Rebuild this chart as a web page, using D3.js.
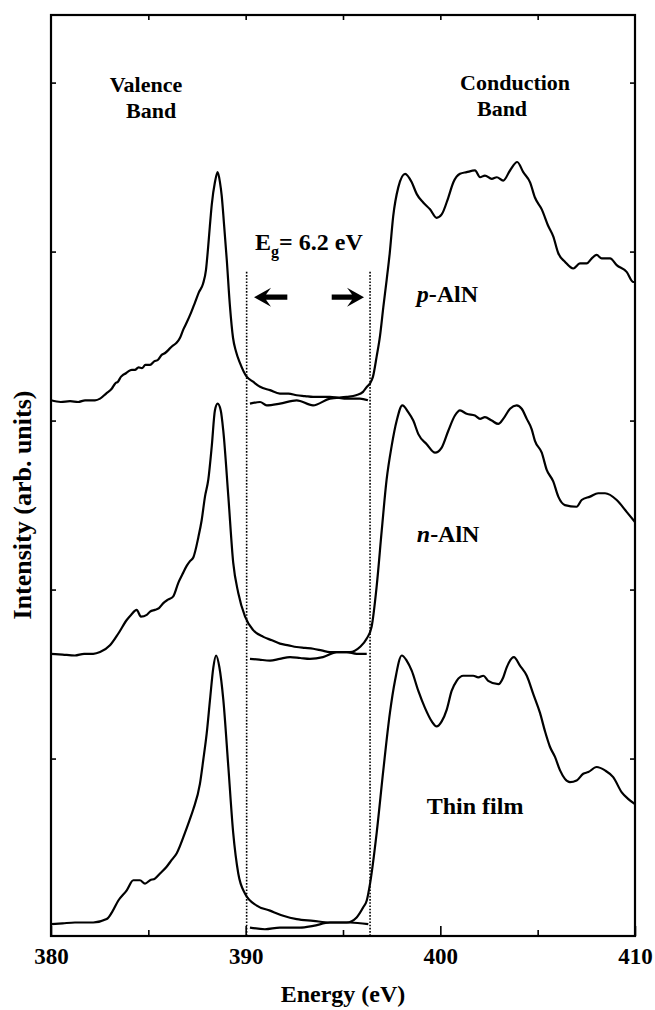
<!DOCTYPE html>
<html>
<head>
<meta charset="utf-8">
<script src="https://cdn.jsdelivr.net/npm/d3@7/dist/d3.min.js"></script>
<style>
  html, body { margin: 0; padding: 0; background: #fff; }
  svg { display: block; }
  text { font-family: "Liberation Serif", "Times New Roman", serif; font-weight: bold; fill: #000; }
</style>
</head>
<body>
<svg id="chart" width="655" height="1010"></svg>
<script>
// ---------------- data (energy in eV, intensity in arb. units) ----------------
const xTicksMajor = [380, 390, 400, 410];
const xTicksMinor = [385, 395, 405];
const yTicks = [1, 2, 3, 4, 5];

// p-AlN valence band
const pValence = [[380.00,3.12],[380.50,3.11],[380.98,3.115],[381.40,3.11],[381.75,3.12],[382.26,3.12],[382.52,3.13],[382.83,3.16],[383.13,3.19],[383.30,3.22],[383.44,3.23],[383.60,3.26],[383.70,3.27],[383.85,3.28],[383.96,3.29],[384.15,3.30],[384.31,3.30],[384.50,3.315],[384.67,3.31],[384.85,3.33],[385.09,3.33],[385.30,3.35],[385.50,3.36],[385.70,3.39],[385.86,3.40],[386.05,3.42],[386.22,3.44],[386.45,3.46],[386.63,3.49],[386.80,3.54],[386.97,3.58],[387.20,3.64],[387.40,3.70],[387.60,3.76],[387.81,3.81],[387.96,3.89],[388.06,4.01],[388.16,4.15],[388.26,4.28],[388.42,4.41],[388.56,4.47],[388.68,4.41],[388.77,4.33],[388.89,4.16],[389.03,3.95],[389.19,3.68],[389.35,3.49],[389.50,3.41],[389.71,3.34],[390.05,3.26],[390.38,3.23],[390.74,3.20],[391.25,3.18],[391.76,3.16],[392.20,3.16],[392.62,3.15],[393.05,3.145],[393.46,3.14],[393.90,3.14],[394.33,3.14],[394.75,3.135],[395.19,3.13],[395.87,3.13],[396.28,3.12]];
// p-AlN conduction band
const pConduction = [[390.22,3.10],[390.74,3.11],[391.08,3.09],[391.76,3.10],[392.62,3.12],[393.46,3.09],[394.33,3.13],[395.19,3.14],[395.67,3.15],[396.03,3.17],[396.23,3.20],[396.39,3.22],[396.54,3.26],[396.73,3.38],[396.90,3.50],[397.07,3.67],[397.24,3.83],[397.40,3.99],[397.58,4.21],[397.84,4.38],[398.19,4.46],[398.53,4.41],[398.79,4.34],[399.12,4.29],[399.47,4.25],[399.81,4.20],[400.07,4.22],[400.41,4.32],[400.67,4.41],[401.01,4.46],[401.35,4.47],[401.78,4.48],[402.04,4.44],[402.29,4.45],[402.64,4.43],[402.90,4.44],[403.23,4.42],[403.58,4.48],[403.95,4.53],[404.26,4.47],[404.61,4.41],[404.86,4.32],[405.21,4.25],[405.55,4.15],[405.80,4.09],[406.06,3.99],[406.40,3.94],[406.83,3.90],[407.17,3.93],[407.52,3.93],[407.78,3.96],[408.03,3.98],[408.29,3.96],[408.72,3.96],[409.06,3.92],[409.57,3.88],[409.91,3.82],[410.00,3.82]];

// n-AlN valence band
const nValence = [[380.00,1.62],[380.60,1.615],[381.23,1.61],[381.70,1.62],[382.17,1.62],[382.52,1.63],[383.03,1.67],[383.46,1.74],[383.89,1.82],[384.11,1.85],[384.40,1.88],[384.62,1.84],[384.92,1.85],[385.09,1.87],[385.34,1.88],[385.55,1.89],[385.77,1.92],[386.01,1.94],[386.28,1.96],[386.54,2.04],[386.75,2.09],[386.97,2.14],[387.15,2.17],[387.31,2.19],[387.57,2.31],[387.74,2.41],[387.91,2.55],[388.08,2.65],[388.26,2.85],[388.42,3.06],[388.56,3.10],[388.72,3.06],[388.85,2.94],[389.11,2.55],[389.36,2.16],[389.62,1.98],[389.97,1.84],[390.39,1.76],[390.91,1.72],[391.35,1.70],[391.76,1.68],[392.20,1.67],[392.62,1.66],[393.05,1.655],[393.47,1.65],[393.90,1.64],[394.33,1.63],[394.75,1.63],[395.19,1.63],[395.70,1.62],[396.22,1.62]];
// n-AlN conduction band
const nConduction = [[390.22,1.59],[390.70,1.585],[391.25,1.58],[391.75,1.59],[392.28,1.60],[392.80,1.595],[393.30,1.59],[393.97,1.60],[394.68,1.63],[395.36,1.63],[395.87,1.66],[396.22,1.71],[396.47,1.78],[396.73,2.02],[396.99,2.35],[397.24,2.65],[397.50,2.85],[397.76,3.00],[398.05,3.09],[398.35,3.05],[398.61,3.00],[398.87,2.92],[399.30,2.86],[399.73,2.81],[400.07,2.84],[400.41,2.94],[400.75,3.03],[401.01,3.06],[401.35,3.04],[401.78,3.03],[402.04,3.01],[402.29,3.02],[402.64,3.00],[402.98,2.98],[403.23,3.01],[403.58,3.07],[403.92,3.09],[404.18,3.07],[404.44,3.01],[404.69,2.95],[404.86,2.88],[405.21,2.81],[405.46,2.71],[405.80,2.64],[406.06,2.55],[406.40,2.50],[407.00,2.49],[407.26,2.53],[407.69,2.55],[408.11,2.57],[408.46,2.57],[409.06,2.53],[409.57,2.46],[410.00,2.40]];

// Thin film valence band
const tValence = [[380.00,0.02],[380.60,0.025],[381.23,0.03],[381.70,0.03],[382.17,0.03],[382.86,0.05],[383.13,0.09],[383.46,0.16],[383.89,0.22],[384.23,0.28],[384.57,0.28],[384.83,0.26],[385.09,0.28],[385.34,0.29],[385.60,0.32],[385.94,0.36],[386.20,0.40],[386.46,0.44],[386.88,0.56],[387.10,0.63],[387.31,0.70],[387.65,0.85],[387.82,0.99],[388.00,1.15],[388.17,1.35],[388.34,1.54],[388.48,1.61],[388.65,1.54],[388.85,1.35],[389.11,0.95],[389.36,0.56],[389.62,0.32],[389.97,0.20],[390.57,0.13],[391.25,0.10],[391.93,0.07],[392.62,0.05],[393.47,0.04],[394.33,0.03],[395.36,0.03],[396.30,0.02]];
// Thin film conduction band
const tConduction = [[390.22,0.00],[390.99,-0.01],[391.76,0.00],[392.79,0.00],[393.47,0.01],[394.33,0.03],[395.19,0.03],[395.70,0.06],[396.04,0.12],[396.22,0.16],[396.39,0.26],[396.73,0.56],[397.07,0.93],[397.41,1.27],[397.67,1.46],[398.02,1.61],[398.27,1.58],[398.53,1.52],[398.87,1.40],[399.21,1.30],[399.56,1.22],[399.81,1.19],[400.07,1.22],[400.33,1.29],[400.58,1.40],[400.84,1.46],[401.18,1.49],[401.69,1.49],[401.95,1.48],[402.21,1.49],[402.46,1.46],[402.98,1.44],[403.23,1.48],[403.41,1.54],[403.78,1.60],[404.09,1.55],[404.44,1.49],[404.78,1.38],[405.12,1.27],[405.38,1.16],[405.63,1.07],[405.89,1.01],[406.15,0.93],[406.40,0.88],[406.66,0.86],[407.00,0.87],[407.34,0.91],[407.60,0.92],[408.03,0.95],[408.46,0.93],[408.88,0.89],[409.32,0.80],[409.66,0.76],[410.00,0.73]];

// band-gap markers
const gapEdges = [390.05, 396.39];
const gapTop = 3.88;
const arrows = [{from: 392.14, to: 390.43, y: 3.73}, {from: 394.42, to: 396.08, y: 3.73}];

// ---------------- layout ----------------
const W = 655, H = 1010;
const margin = {left: 51, right: 20, top: 15, bottom: 74};
const x = d3.scaleLinear().domain([380, 410]).range([margin.left, W - margin.right]);
const y = d3.scaleLinear().domain([-0.05, 5.4]).range([H - margin.bottom, margin.top]);

const svg = d3.select("#chart");

const line = d3.line().x(d => x(d[0])).y(d => y(d[1])).curve(d3.curveMonotoneX);

// dotted gap lines
svg.append("g").selectAll("line").data(gapEdges).join("line")
  .attr("x1", d => x(d)).attr("x2", d => x(d))
  .attr("y1", y(gapTop)).attr("y2", y(-0.05))
  .attr("stroke", "#000").attr("stroke-width", 1.6).attr("stroke-dasharray", "1.6,1.6");

// spectra
const series = [pValence, pConduction, nValence, nConduction, tValence, tConduction];
svg.append("g").selectAll("path").data(series).join("path")
  .attr("d", line)
  .attr("fill", "none").attr("stroke", "#000").attr("stroke-width", 2.2)
  .attr("stroke-linejoin", "round");

// arrows
arrows.forEach(a => {
  const x0 = x(a.from), x1 = x(a.to), yy = y(a.y);
  const dir = Math.sign(x1 - x0);
  const headL = 17, headW = 9.5, notch = 5, shaft = 2.6;
  const xb = x1 - dir * headL;
  const p = [
    [x0, yy - shaft], [xb + dir * notch, yy - shaft], [xb, yy - headW], [x1, yy],
    [xb, yy + headW], [xb + dir * notch, yy + shaft], [x0, yy + shaft]
  ];
  svg.append("path").attr("d", "M" + p.map(q => q.join(",")).join("L") + "Z").attr("fill", "#000");
});

// frame
svg.append("rect")
  .attr("x", margin.left).attr("y", margin.top)
  .attr("width", W - margin.left - margin.right).attr("height", H - margin.top - margin.bottom)
  .attr("fill", "none").attr("stroke", "#000").attr("stroke-width", 2.2);

// axes
const plotBottom = H - margin.bottom;
const gx = svg.append("g").attr("transform", `translate(0,${plotBottom})`)
  .call(d3.axisBottom(x).tickValues(xTicksMajor).tickSize(-10).tickPadding(12).tickFormat(d3.format("d")));
svg.append("g").attr("transform", `translate(0,${plotBottom})`)
  .call(d3.axisBottom(x).tickValues(xTicksMinor).tickSize(-6).tickFormat(""));
svg.append("g").attr("transform", `translate(0,${margin.top})`)
  .call(d3.axisTop(x).tickValues(xTicksMinor.concat(xTicksMajor.slice(1, 3))).tickSize(-5).tickFormat(""));
svg.append("g").attr("transform", `translate(${margin.left},0)`)
  .call(d3.axisLeft(y).tickValues(yTicks).tickSize(-5).tickFormat(""));
svg.append("g").attr("transform", `translate(${W - margin.right},0)`)
  .call(d3.axisRight(y).tickValues(yTicks).tickSize(-5).tickFormat(""));

svg.selectAll(".domain").remove();
svg.selectAll(".tick line").attr("stroke", "#000").attr("stroke-width", 1.6);
gx.selectAll(".tick text")
  .style("font-family", '"Liberation Serif", serif').style("font-weight", "bold")
  .style("font-size", "23px").attr("fill", "#000").attr("dy", "0.71em");

// axis titles
svg.append("text").attr("x", (margin.left + W - margin.right) / 2).attr("y", 1002)
  .attr("text-anchor", "middle").style("font-size", "24px").text("Energy (eV)");
svg.append("text").attr("transform", `translate(31,505) rotate(-90)`)
  .attr("text-anchor", "middle").style("font-size", "26px").text("Intensity (arb. units)");

// annotations
const ann = svg.append("g").style("font-size", "22px");
ann.append("text").attr("x", x(384.88)).attr("y", y(4.944)).attr("text-anchor", "middle").text("Valence");
ann.append("text").attr("x", x(385.14)).attr("y", y(4.79)).attr("text-anchor", "middle").text("Band");
ann.append("text").attr("x", x(403.84)).attr("y", y(4.956)).attr("text-anchor", "middle").text("Conduction");
ann.append("text").attr("x", x(403.17)).attr("y", y(4.80)).attr("text-anchor", "middle").text("Band");

const eg = ann.append("text").attr("x", x(393.25)).attr("y", y(4.01)).attr("text-anchor", "middle").style("font-size", "24px");
eg.append("tspan").text("E");
eg.append("tspan").attr("dy", 7).style("font-size", "16px").text("g");
eg.append("tspan").attr("dy", -7).text("= 6.2 eV");

const pl = ann.append("text").attr("x", x(398.79)).attr("y", y(3.70)).style("font-size", "24px");
pl.append("tspan").style("font-style", "italic").text("p");
pl.append("tspan").text("-AlN");
const nl = ann.append("text").attr("x", x(398.79)).attr("y", y(2.28)).style("font-size", "24px");
nl.append("tspan").style("font-style", "italic").text("n");
nl.append("tspan").text("-AlN");
ann.append("text").attr("x", x(399.30)).attr("y", y(0.67)).style("font-size", "24px").text("Thin film");
</script>
</body>
</html>
